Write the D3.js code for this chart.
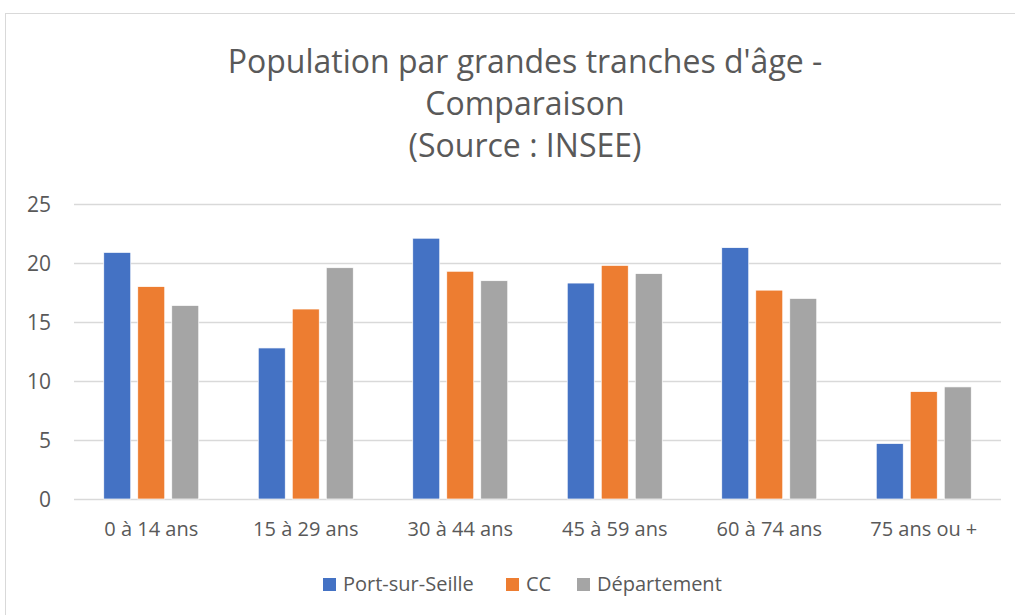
<!DOCTYPE html>
<html lang="fr">
<head>
<meta charset="utf-8">
<title>Population par grandes tranches d'âge</title>
<script src="https://cdn.jsdelivr.net/npm/d3@7"></script>
<style>
  body { margin: 0; background: #fff; }
  text { font-family: "Open Sans", "Noto Sans", sans-serif; fill: #595959; }
</style>
</head>
<body>
<script>
/* data */
var categories = ["0 à 14 ans", "15 à 29 ans", "30 à 44 ans", "45 à 59 ans", "60 à 74 ans", "75 ans ou +"];
var seriesNames = ["Port-sur-Seille", "CC", "Département"];
var portValues = [20.9, 12.8, 22.1, 18.3, 21.3, 4.7];
var ccValues = [18.0, 16.1, 19.3, 19.8, 17.7, 9.1];
var deptValues = [16.4, 19.6, 18.5, 19.1, 17.0, 9.5];
var yTicks = [0, 5, 10, 15, 20, 25];
var colors = ["#4472c4", "#ed7d31", "#a5a5a5"];

var series = [portValues, ccValues, deptValues];

var W = 1015, H = 615;
var plot = {left: 74, right: 1001, top: 204, bottom: 499};

var svg = d3.select("body").append("svg")
  .attr("width", W).attr("height", H);

/* chart frame */
svg.append("rect")
  .attr("x", 5.5).attr("y", 13.5)
  .attr("width", W + 10).attr("height", H + 10)
  .attr("fill", "#fff").attr("stroke", "#d9d9d9");

/* title */
var title = ["Population par grandes tranches d'âge -", "Comparaison", "(Source : INSEE)"];
svg.append("g").selectAll("text")
  .data(title).enter().append("text")
  .attr("x", 525).attr("y", function(d, i) { return 73 + i * 42; })
  .attr("text-anchor", "middle")
  .style("font-size", "32px")
  .text(function(d) { return d; });

var x = d3.scaleBand().domain(categories).range([plot.left, plot.right]).paddingInner(0).paddingOuter(0);
var y = d3.scaleLinear().domain([0, 25]).range([plot.bottom, plot.top]);
var inner = d3.scaleBand().domain(d3.range(3)).range([0, x.bandwidth()]).paddingInner(0.206).paddingOuter(0.875);

/* gridlines */
svg.append("g").selectAll("line")
  .data(yTicks).enter().append("line")
  .attr("x1", plot.left).attr("x2", plot.right)
  .attr("y1", function(d) { return Math.round(y(d)) + 0.5; })
  .attr("y2", function(d) { return Math.round(y(d)) + 0.5; })
  .attr("stroke", "#d9d9d9").attr("stroke-width", 1.3);

/* y axis labels */
var yAxis = svg.append("g")
  .attr("transform", "translate(" + (plot.left - 23) + ",0)")
  .call(d3.axisLeft(y).tickValues(yTicks).tickSize(0).tickPadding(0));
yAxis.select(".domain").remove();
yAxis.selectAll("text").style("font-size", "21px").attr("fill", "#595959").attr("dy", "0.35em");

/* bars */
series.forEach(function(vals, s) {
  svg.append("g").selectAll("rect")
    .data(vals).enter().append("rect")
    .attr("x", function(d, i) { return x(categories[i]) + inner(s); })
    .attr("width", inner.bandwidth())
    .attr("y", function(d) { return y(d); })
    .attr("height", function(d) { return y(0) - y(d); })
    .attr("fill", colors[s])
    .attr("stroke", "#fff").attr("stroke-width", 0.7);
});

/* x axis labels */
var xAxis = svg.append("g")
  .attr("transform", "translate(0," + plot.bottom + ")")
  .call(d3.axisBottom(x).tickSize(0).tickPadding(23));
xAxis.select(".domain").remove();
xAxis.selectAll("text").style("font-size", "20px").attr("fill", "#595959");

/* legend */
var legendX = [323, 506, 577];
var legend = svg.append("g").selectAll("g")
  .data(seriesNames).enter().append("g")
  .attr("transform", function(d, i) { return "translate(" + legendX[i] + ",584)"; });
legend.append("rect")
  .attr("x", 0).attr("y", -6).attr("width", 13).attr("height", 13)
  .attr("fill", function(d, i) { return colors[i]; });
legend.append("text")
  .attr("x", 20).attr("dy", "0.35em")
  .style("font-size", "20px")
  .text(function(d) { return d; });
</script>
</body>
</html>
